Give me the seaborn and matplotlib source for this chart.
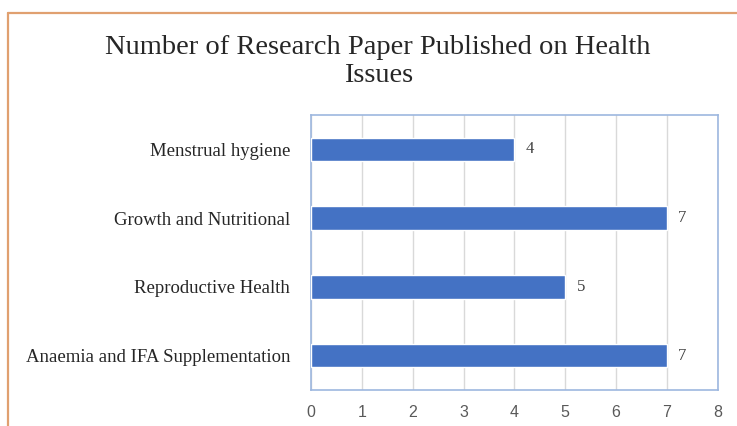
import matplotlib
matplotlib.use("Agg")
import matplotlib.pyplot as plt
import seaborn as sns
import pandas as pd
from matplotlib.lines import Line2D

categories = [
    "Menstrual hygiene",
    "Growth and Nutritional",
    "Reproductive Health",
    "Anaemia and IFA Supplementation",
]
papers = [4, 7, 5, 7]
x_ticks = [0, 1, 2, 3, 4, 5, 6, 7, 8]

sns.set_style("white")
plt.rcParams["font.family"] = ["Liberation Serif", "DejaVu Serif"]

df = pd.DataFrame({"issue": categories, "papers": papers})

fig = plt.figure(figsize=(7.37, 4.26), dpi=100)
ax = fig.add_axes([0.422, 0.0845, 0.552, 0.6455])

sns.barplot(data=df, x="papers", y="issue", color="#4472C4", width=0.34,
            saturation=1, ax=ax, zorder=3)

ax.set_xlim(0, 8)
ax.set_ylim(3.5, -0.5)
ax.set_xticks(x_ticks)
ax.set_xticklabels([str(t) for t in x_ticks], family="Liberation Sans",
                   fontsize=11.5, color="#595959")
ax.tick_params(axis="x", length=0, pad=11)
ax.tick_params(axis="y", length=0, pad=15, labelsize=13.5, labelcolor="#262626")
ax.set_xlabel("")
ax.set_ylabel("")
ax.grid(axis="x", color="#D9D9D9", linewidth=1, zorder=0)
for s in ax.spines.values():
    s.set_color("#9DB7DF")
    s.set_linewidth(1.2)

for i, v in enumerate(papers):
    ax.text(v + 0.22, i, str(v), va="center", ha="left", fontsize=12, color="#404040")

fig.text(0.513, 0.855, "Number of Research Paper Published on Health\nIssues",
         ha="center", va="center", fontsize=20.5, color="#262626", linespacing=1.15)

# orange frame along the top and left edges
fig.add_artist(Line2D([8 / 737, 1], [1 - 13 / 426, 1 - 13 / 426],
                      transform=fig.transFigure, color="#E0A070", linewidth=1.6))
fig.add_artist(Line2D([8 / 737, 8 / 737], [0, 1 - 13 / 426],
                      transform=fig.transFigure, color="#E0A070", linewidth=1.6))

fig.savefig("out.png", dpi=100)
